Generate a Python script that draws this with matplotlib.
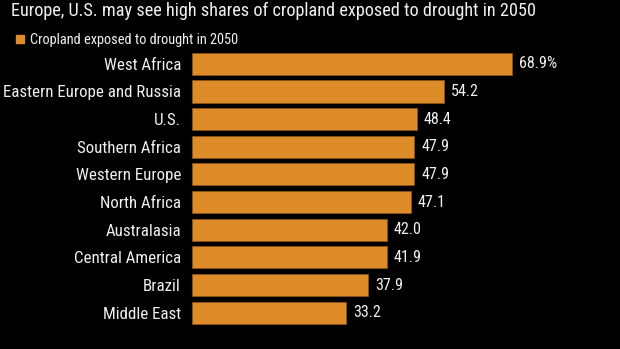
import matplotlib.pyplot as plt
from matplotlib import font_manager

regions = ["West Africa", "Eastern Europe and Russia", "U.S.", "Southern Africa",
           "Western Europe", "North Africa", "Australasia", "Central America",
           "Brazil", "Middle East"]
shares = [68.9, 54.2, 48.4, 47.9, 47.9, 47.1, 42.0, 41.9, 37.9, 33.2]
value_labels = ["68.9%", "54.2", "48.4", "47.9", "47.9", "47.1", "42.0", "41.9", "37.9", "33.2"]

# pick a narrow face if one is around, else condensed DejaVu
names = {f.name for f in font_manager.fontManager.ttflist}
family, stretch = "DejaVu Sans", "condensed"
for cand in ["Roboto Condensed", "Open Sans Condensed", "Liberation Sans Narrow"]:
    if cand in names:
        family, stretch = cand, "normal"
        break
plt.rcParams["font.family"] = [family, "DejaVu Sans"]
plt.rcParams["font.stretch"] = stretch

BAR = "#DE8B2A"
TXT = "#f0f0f0"
W, H = 620, 349
fig = plt.figure(figsize=(W / 100, H / 100), dpi=100, facecolor="black")
ax = fig.add_axes([192 / W, 1 - 326.5 / H, 408 / W, 276.5 / H])
ax.set_facecolor("black")

y = list(range(len(regions)))
ax.barh(y, shares, height=0.8, color=BAR, edgecolor="#8a5418", linewidth=0.6)
ax.set_ylim(len(regions) - 0.5, -0.5)
ax.set_xlim(0, 408 / (320 / 68.9))

renderer = fig.canvas.get_renderer()


def fit(txt, width_px):
    # scale the font so the text spans roughly the given width
    w = txt.get_window_extent(renderer).width
    txt.set_fontsize(txt.get_fontsize() * width_px / w)


vals = []
for yi, v, lab in zip(y, shares, value_labels):
    vals.append(ax.text(v + 1.5, yi, lab, color=TXT, fontsize=10, va="center", ha="left"))
fit(vals[0], 38)
for t in vals[1:]:
    t.set_fontsize(vals[0].get_fontsize())

ax.set_yticks(y)
ax.set_yticklabels(regions, color=TXT, fontsize=10)
ax.tick_params(axis="y", length=0, pad=8)
ax.set_xticks([])
for s in ax.spines.values():
    s.set_visible(False)
probe = fig.text(0, 0, regions[1], fontsize=10)
fit(probe, 176)
for t in ax.get_yticklabels():
    t.set_fontsize(probe.get_fontsize())
probe.remove()

title = fig.text(11 / W, 1 - 16 / H,
                 "Europe, U.S. may see high shares of cropland exposed to drought in 2050",
                 color=TXT, fontsize=13, va="baseline", ha="left")
fit(title, 525)
fig.patches.append(plt.Rectangle((16 / W, 1 - 43 / H), 8 / W, 8 / H, transform=fig.transFigure,
                                 color=BAR))
leg = fig.text(30 / W, 1 - 44 / H, "Cropland exposed to drought in 2050", color=TXT,
               fontsize=10, va="baseline", ha="left")
fit(leg, 208)

fig.savefig("out.png", dpi=100, facecolor="black")
